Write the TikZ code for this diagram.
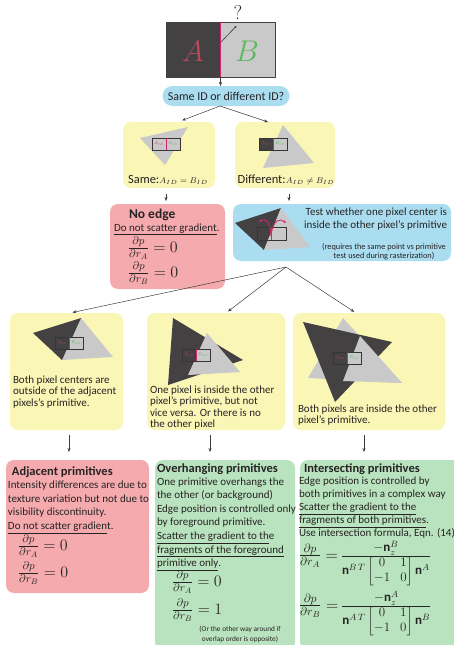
\documentclass[tikz,border=0pt]{standalone}
\usepackage{fix-cm}
\usepackage{amsmath}
\usepackage{fontspec}
\setmainfont{Carlito}
\usetikzlibrary{arrows.meta, positioning, calc}

\definecolor{boxyellow}{HTML}{FAF6B6}
\definecolor{boxred}{HTML}{F5AAAE}
\definecolor{boxblue}{HTML}{ABDDF1}
\definecolor{boxgreen}{HTML}{B9E3BE}
\definecolor{primdark}{HTML}{444143}
\definecolor{primlight}{HTML}{C9C9C9}
\definecolor{edgepink}{HTML}{D6246E}
\definecolor{acolor}{HTML}{B84A5E}
\definecolor{bcolor}{HTML}{5CB85C}
\definecolor{textdark}{HTML}{262324}
\definecolor{linegray}{HTML}{3C3C3C}

% pixel pair: name, x, y (top left), left fill, right fill
\newcommand{\pixpair}[5]{%
  \fill[#4] (#2,#3) rectangle ++(14,12);
  \fill[#5] (#2+14,#3) rectangle ++(14,12);
  \draw[pixedge] (#2,#3) rectangle ++(28,12);
  \draw[pinkline] (#2+14,#3) -- ++(0,12);
  \node[idlabel, text=acolor] (#1a) at (#2+7,#3+6) {$A_{ID}$};
  \node[idlabel, text=bcolor] (#1b) at (#2+21,#3+6) {$B_{ID}$};
}
% intersection formula: other primitive, this primitive
\newcommand{\isectfrac}[2]{%
  \raisebox{1pt}{\fontsize{13}{15}\selectfont$\frac{\textstyle -\mathbf{n}_z^{#1}}%
  {\textstyle \mathbf{n}^{#1\,T}\begin{bmatrix}0 & 1\\ -1 & 0\end{bmatrix}\mathbf{n}^{#2}}$}}

\begin{document}
\begin{tikzpicture}[
    x=1pt, y=-1pt,
    every node/.style={text=textdark, inner sep=0, outer sep=0},
    box/.style={rectangle, rounded corners=8pt},
    ybox/.style={box, fill=boxyellow},
    rbox/.style={box, fill=boxred},
    bbox/.style={box, fill=boxblue},
    gbox/.style={box, fill=boxgreen},
    body/.style={anchor=north west, align=left, font=\fontsize{11}{11.3}\selectfont},
    title/.style={anchor=base west, font=\fontsize{12.5}{14}\selectfont\bfseries},
    eqn/.style={anchor=base west, font=\fontsize{16}{18}\selectfont},
    idlabel/.style={font=\fontsize{4}{4}\selectfont},
    pixedge/.style={draw=primdark!80!black, line width=0.6pt},
    pinkline/.style={draw=edgepink, line width=1pt},
    arrow/.style={-{Stealth[length=4pt, width=3pt]}, draw=linegray, line width=0.5pt}
]
\useasboundingbox (0,0) rectangle (454,645);

% Top image
\node[rectangle, fill=primlight, minimum width=109pt, minimum height=55pt] (img) at (220.5,49.5) {};
\fill[primdark] (img.north west) rectangle (img.south);
\draw[primdark, line width=0.6pt] (img.north west) rectangle (img.south east);
\draw[pinkline, line width=1.3pt] (img.north) -- (img.south);
\node[font=\fontsize{30}{30}\selectfont, text=acolor] (letA) at (193,51) {$A$};
\node[font=\fontsize{30}{30}\selectfont, text=bcolor] (letB) at (247,51) {$B$};
\node[font=\fontsize{20}{20}\selectfont] (qmark) at (238,13) {$?$};
\draw[linegray, line width=0.6pt] (img.north) ++(0.5,20) -- (235.5,27);
\fill[linegray] (235.5,27) circle (1.1pt);

% Question
\node[bbox, rounded corners=10pt, minimum width=127pt, minimum height=20pt,
      font=\fontsize{12}{14}\selectfont] (query) at (226,96) {Same ID or different ID?};

% Same / different
\node[ybox, minimum width=92pt, minimum height=66pt] (same) at (169,155) {};
\fill[primlight] (140,138) -- (188,127) -- (165,165) -- cycle;
\pixpair{samepix}{152}{138}{primlight}{primlight}
\node[anchor=base, font=\fontsize{12.5}{14}\selectfont] (sametxt) at (168,183)
  {Same:{\fontsize{8.5}{9}\selectfont$A_{ID}=B_{ID}$}};

\node[ybox, minimum width=100pt, minimum height=66pt] (diff) at (285,155) {};
\fill[primlight] (283,125) -- (314,163) -- (263,168) -- cycle;
\pixpair{diffpix}{259}{138}{primdark}{primlight}
\node[anchor=base, font=\fontsize{12.5}{14}\selectfont] (difftxt) at (286,183)
  {Different:{\fontsize{8.5}{9}\selectfont$A_{ID}\neq B_{ID}$}};

% No edge
\node[rbox, minimum width=115pt, minimum height=85pt] (noedge) at (167.5,246.5) {};
\node[title, font=\fontsize{13.5}{15}\selectfont\bfseries] (noedgett) at (129,218) {No edge};
\node[anchor=base west, font=\fontsize{11}{12}\selectfont] (noedgetxt) at (114,231) {\underline{Do not scatter gradient}.};
\node[eqn] (noedgeA) at (128,252) {$\frac{\partial p}{\partial r_A} = 0$};
\node[eqn] (noedgeB) at (128,277) {$\frac{\partial p}{\partial r_B} = 0$};

% Test
\node[bbox, minimum width=218pt, minimum height=57pt] (test) at (342,232.5) {};
\fill[primdark] (235,223) -- (281,208) -- (264,250) -- cycle;
\fill[primlight] (281,208) -- (310,247) -- (264,250) -- cycle;
\draw[pixedge] (257,227) rectangle (286,240);
\draw[pinkline] (271,227) -- (271,240);
\draw[edgepink, line width=0.8pt, -{Stealth[length=3pt, width=2.5pt]}]
  (271,236) .. controls (270,219) and (265,218) .. (259,222);
\draw[edgepink, line width=0.8pt, -{Stealth[length=3pt, width=2.5pt]}]
  (271,236) .. controls (273,219) and (280,218) .. (286,223);
\node[anchor=north east, align=right, font=\fontsize{11}{12.5}\selectfont] (testtxt) at (447,208)
  {Test whether one pixel center is\\inside the other pixel’s primitive};
\node[anchor=north, align=center, font=\fontsize{8.3}{9.3}\selectfont] (testnote) at (384,243)
  {(requires the same point vs primitive\\test used during rasterization)};

% Cases
\node[ybox, minimum width=113pt, minimum height=117pt] (adj) at (66.5,371.5) {};
\fill[primlight] (81,318) -- (113,357) -- (62,360) -- cycle;
\fill[primdark] (33,333) -- (81,318) -- (62,360) -- cycle;
\pixpair{adjpix}{55}{337}{primdark}{primlight}
\node[body] (adjtxt) at (13,376)
  {Both pixel centers are\\outside of the adjacent\\pixels’s primitive.};

\node[ybox, minimum width=138pt, minimum height=117pt] (over) at (216,371.5) {};
\fill[primdark] (173,318) -- (243,360) -- (168,385) -- cycle;
\fill[primlight] (207,333) -- (240,372) -- (188,375) -- cycle;
\pixpair{overpix}{182}{349}{primdark}{primlight}
\node[body] (overtxt) at (150,386)
  {One pixel is inside the other\\pixel’s primitive, but not\\vice versa. Or there is no\\the other pixel};

\node[ybox, minimum width=152pt, minimum height=117pt] (inter) at (369,371.5) {};
\fill[primlight] (343,318) -- (402,383) -- (308,378) -- cycle;
\fill[primdark] (303,322) -- (392,342) -- (335,402) -- cycle;
\fill[primlight] (360,336) -- (402,383) -- (343,381) -- cycle;
\pixpair{interpix}{333}{352}{primdark}{primlight}
\node[body] (intertxt) at (298,405)
  {Both pixels are inside the other\\pixel’s primitive.};

% Results
\node[rbox, minimum width=143pt, minimum height=133pt] (adjres) at (77.5,526.5) {};
\node[title] (adjtt) at (12,475) {Adjacent primitives};
\node[body, font=\fontsize{11}{13.9}\selectfont] (adjrestxt) at (8,480.5)
  {Intensity differences are due to\\texture variation but not due to\\visibility discontinuity.\\\underline{Do not scatter gradien}t.};
\node[eqn] (adjA) at (18,550) {$\frac{\partial p}{\partial r_A} = 0$};
\node[eqn] (adjB) at (18,577) {$\frac{\partial p}{\partial r_B} = 0$};

\node[gbox, minimum width=140pt, minimum height=190pt] (overres) at (225,555) {};
\node[title] (overtt) at (157,472.5) {Overhanging primitives};
\node[body, font=\fontsize{11}{13.6}\selectfont] (overrestxt) at (157,477.5)
  {One primitive overhangs the\\the other (or background)\\Edge position is controlled only\\by foreground primitive.\\\underline{Scatter the gradient to th}e\\\underline{fragments of the foreground}\\\underline{primitive only}.};
\node[eqn] (overA) at (172,586) {$\frac{\partial p}{\partial r_A} = 0$};
\node[eqn] (overB) at (172,614) {$\frac{\partial p}{\partial r_B} = 1$};
\node[anchor=north, align=center, font=\fontsize{7.3}{10}\selectfont] (overnote) at (240,626)
  {(Or the other way around if\\overlap order is opposite)};

\node[gbox, minimum width=160pt, minimum height=190pt] (interres) at (380,555) {};
\node[title] (intertt) at (304,472.5) {Intersecting primitives};
\node[body, font=\fontsize{11}{13.2}\selectfont] (interrestxt) at (299,476.5)
  {Edge position is controlled by\\both primitives in a complex way\\\underline{Scatter the gradient to the}\\\underline{fragments of both primitives}.\\Use intersection formula, Eqn. (14)};
\node[eqn, font=\fontsize{17}{19}\selectfont] (interA) at (299,560)
  {$\frac{\partial p}{\partial r_A} =\,$\isectfrac{B}{A}};
\node[eqn, font=\fontsize{17}{19}\selectfont] (interB) at (299,610)
  {$\frac{\partial p}{\partial r_B} =\,$\isectfrac{A}{B}};

% Arrows
\draw[arrow] (img.south) -- (img.south |- query.north);
\coordinate (qfork) at (220,106);
\draw[arrow] (qfork) -- ([xshift=13pt, yshift=1.5pt]same.north);
\draw[arrow] (qfork) -- ([xshift=-17pt]diff.north);
\draw[arrow, shorten <=6pt, shorten >=3pt] ([xshift=-3pt]same.south) -- ([xshift=-3pt]same.south |- noedge.north);
\draw[arrow, shorten <=6pt, shorten >=3pt] ([xshift=4pt]diff.south) -- ([xshift=4pt]diff.south |- test.north);
\coordinate (fan) at (286,267);
\draw[arrow, shorten >=2.5pt] (fan) -- ([xshift=3.5pt]adj.north);
\draw[arrow, shorten >=2.5pt] (fan) -- ([xshift=10pt]over.north);
\draw[arrow, shorten >=2pt] (fan) -- ([xshift=-13pt]inter.north);
\draw[arrow, shorten <=5pt, shorten >=8pt] ([xshift=2.5pt]adj.south) -- ([xshift=2.5pt]adj.south |- adjres.north);
\draw[arrow, shorten <=5pt, shorten >=8pt] ([xshift=-6pt]over.south) -- ([xshift=-6pt]over.south |- overres.north);
\draw[arrow, shorten <=5pt, shorten >=8pt] ([xshift=-5pt]inter.south) -- ([xshift=-5pt]inter.south |- interres.north);

\end{tikzpicture}
\end{document}
